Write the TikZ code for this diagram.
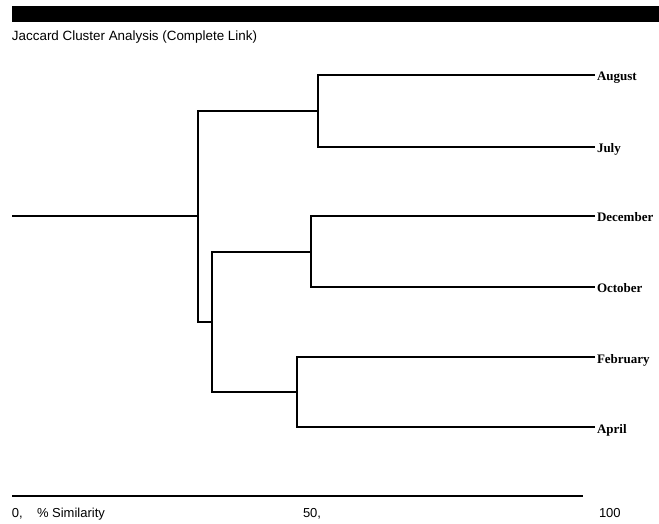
\documentclass[tikz,border=0pt]{standalone}
\usepackage{fontspec}
\setmainfont{Liberation Serif}
\newfontfamily\plotsans{Liberation Sans}
\begin{document}
\begin{tikzpicture}[x=1pt,y=1pt,
  treeLine/.style={draw=drawColor,line width= 2.4pt,line join=miter},
  leafLabel/.style={text=drawColor,anchor=base west,inner sep=0pt, outer sep=0pt,font=\fontsize{13}{15}\selectfont\bfseries},
  axisLabel/.style={text=drawColor,anchor=base west,inner sep=0pt, outer sep=0pt,font=\plotsans\fontsize{13}{15}\selectfont}]
\definecolor{fillColor}{RGB}{255,255,255}
\definecolor{drawColor}{RGB}{0,0,0}
\path[use as bounding box,fill=fillColor] (0,0) rectangle (659,523);

% header bar and title
\path[fill=drawColor] ( 12.00,501.00) rectangle (659.00,517.00);
\node[text=drawColor,anchor=base west,inner sep=0pt, outer sep=0pt,font=\plotsans\fontsize{13.4}{15}\selectfont] (title) at ( 12.00,482.00) {Jaccard Cluster Analysis (Complete Link)};

% leaves and merges
\coordinate (root) at ( 12.00,307.00);
\coordinate (mR) at (198.00,307.00);
\coordinate (mA) at (318.00,412.00);
\coordinate (mB) at (212.00,201.00);
\coordinate (mC) at (311.00,271.00);
\coordinate (mD) at (297.00,131.00);
\coordinate (aug) at (595.00,448.00);
\coordinate (jul) at (595.00,376.00);
\coordinate (dec) at (595.00,307.00);
\coordinate (oct) at (595.00,236.00);
\coordinate (feb) at (595.00,166.00);
\coordinate (apr) at (595.00, 96.00);

\path[treeLine] (root) -- (mR);
\path[treeLine] (mA) -| (mR) |- (mB);
\path[treeLine] (aug) -| (mA) |- (jul);
\path[treeLine] (mC) -| (mB) |- (mD);
\path[treeLine] (dec) -| (mC) |- (oct);
\path[treeLine] (feb) -| (mD) |- (apr);

\node[leafLabel] (augLab) at ([shift={(2,-6)}]aug) {August};
\node[leafLabel] (julLab) at ([shift={(2,-6)}]jul) {July};
\node[leafLabel] (decLab) at ([shift={(2,-6)}]dec) {December};
\node[leafLabel] (octLab) at ([shift={(2,-6)}]oct) {October};
\node[leafLabel] (febLab) at ([shift={(2,-6)}]feb) {February};
\node[leafLabel] (aprLab) at ([shift={(2,-6)}]apr) {April};

% similarity axis
\coordinate (ax0) at ( 12.00, 27.00);
\coordinate (ax1) at (583.00, 27.00);
\path[draw=drawColor,line width= 2.2pt] (ax0) -- (ax1);
\node[axisLabel] (tick0) at ( 12.00,  6.00) {0,};
\node[axisLabel] (axTitle) at ( 37.00,  6.00) {\% Similarity};
\node[axisLabel] (tick50) at (303.00,  6.00) {50,};
\node[axisLabel] (tick100) at (599.00,  6.00) {100};
\end{tikzpicture}
\end{document}
